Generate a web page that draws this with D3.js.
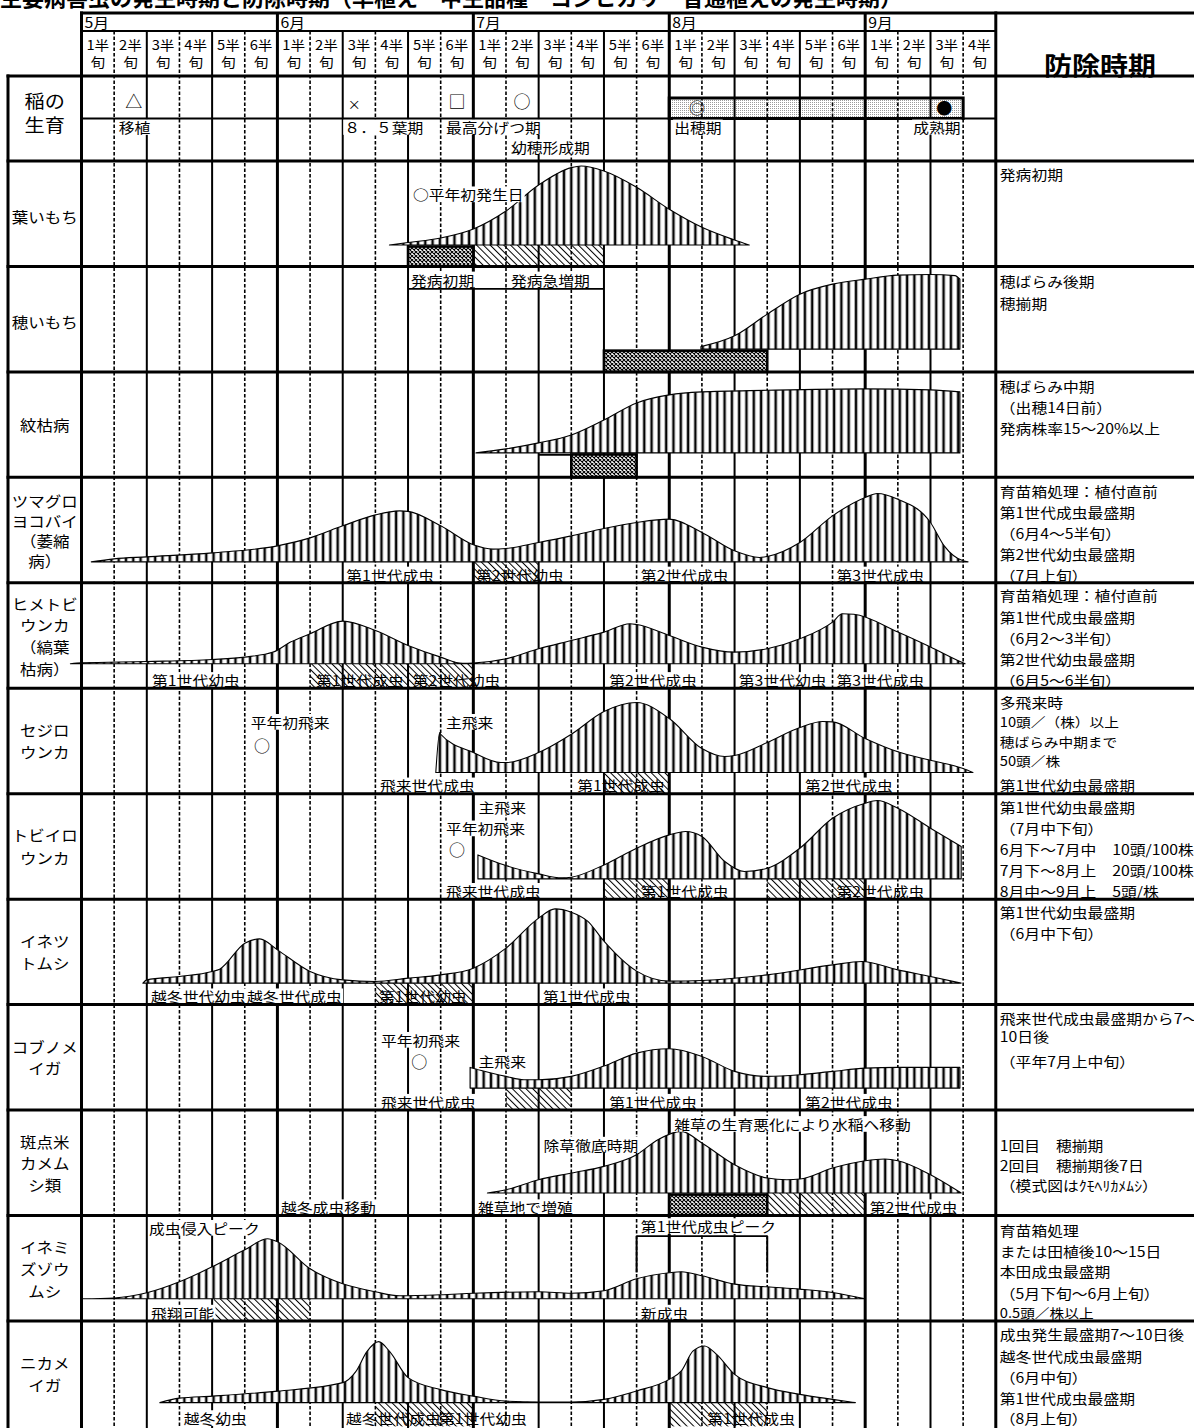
<!DOCTYPE html>
<html><head><meta charset="utf-8">
<script src="https://cdn.jsdelivr.net/npm/d3@7"></script>
<style>
body{margin:0;background:#fff}
svg{display:block}
text{font-family:"Noto Sans CJK JP","Noto Sans CJK SC",sans-serif;fill:#000}
</style>
</head><body>
<svg id="c" width="1194" height="1428"></svg>
<script>
// ---------------- DATA ----------------
const titleText = "主要病害虫の発生時期と防除時期（早植え　中生品種　コシヒカリ　普通植えの発生時期）";
const months = ["5月","6月","7月","8月","9月"];
const halvesPerMonth = [6,6,6,6,4];
const halfTop = ["1半","2半","3半","4半","5半","6半"];
const halfBottom = "旬";
const controlHeader = "防除時期";
const riceLabel = ["稲の","生育"];
const riceMarks = [["△",1.6],["×",8.35],["□",11.5],["○",13.49],["◎",18.85],["●",26.42]];
const riceStages = [["移植",1.14,0],["８．５葉期",8.05,0],["最高分げつ期",11.16,0],["幼穂形成期",13.15,1],["出穂期",18.15,0],["成熟期",25.47,0]];
const ripeningBand = [18,27];

const pestNames = [["葉いもち"],["穂いもち"],["紋枯病"],["ツマグロ","ヨコバイ","（萎縮","病）"],["ヒメトビ","ウンカ","（縞葉","枯病）"],["セジロ","ウンカ"],["トビイロ","ウンカ"],["イネツ","トムシ"],["コブノメ","イガ"],["斑点米","カメム","シ類"],["イネミ","ズゾウ","ムシ"],["ニカメ","イガ"]];

const controlText = [
 ["発病初期"],
 ["穂ばらみ後期","穂揃期"],
 ["穂ばらみ中期","（出穂14日前）","発病株率15～20%以上"],
 ["育苗箱処理：植付直前","第1世代成虫最盛期","（6月4～5半旬）","第2世代幼虫最盛期","（7月上旬）"],
 ["育苗箱処理：植付直前","第1世代成虫最盛期","（6月2～3半旬）","第2世代幼虫最盛期","（6月5～6半旬）"],
 ["多飛来時","10頭／（株）以上","穂ばらみ中期まで","50頭／株","第1世代幼虫最盛期"],
 ["第1世代幼虫最盛期","（7月中下旬）","6月下～7月中　10頭/100株","7月下～8月上　20頭/100株","8月中～9月上　5頭/株"],
 ["第1世代幼虫最盛期","（6月中下旬）"],
 ["飛来世代成虫最盛期から7～","10日後","（平年7月上中旬）"],
 ["1回目　穂揃期","2回目　穂揃期後7日","（模式図はｸﾓﾍﾘｶﾒﾑｼ）"],
 ["育苗箱処理","または田植後10～15日","本田成虫最盛期","（5月下旬～6月上旬）","0.5頭／株以上"],
 ["成虫発生最盛期7～10日後","越冬世代成虫最盛期","（6月中旬）","第1世代成虫最盛期","（8月上旬）"]
];

// curves: [半旬 index from 1 May, relative abundance]
const curveHaimochi = [[9.43,0],[10,2.5],[11,7],[12,16],[13,34],[14,60],[15,77.4],[15.3,79],[16,74],[17,57.7],[18,35.7],[19,17.7],[20,5],[20.45,0]];
const curveHoimochi = [[18.97,2.5],[20,13.3],[21,35],[22,55],[23,65],[24,70],[25,74],[26,74.7],[26.75,73.5],[26.9,70]];
const curveMongare = [[12.08,0],[13,4],[14,10],[15,18],[16,33],[17,50],[18,58],[19,61],[21,62.6],[24,64],[26,63],[26.9,61]];
const curveTsumaguro = [[0.3,0],[1,3],[2,5],[4,9],[6,16],[7,24],[8,36],[9,47],[9.74,51],[10,50.5],[11,36],[12,17],[12.6,12.7],[13,13.4],[14,19.4],[15,26],[16,33.4],[17,39.4],[18,42.7],[19,29.4],[20,11],[20.76,4.4],[21,5.4],[22,19.4],[23,46],[24,64.4],[24.37,68.4],[25,62.7],[26,39.4],[26.42,16],[27,1],[27.15,0]];
const curveHimetobi = [[-0.34,0],[0,1],[2,2.3],[4,4.3],[5,6.7],[5.87,11.7],[6.4,21.7],[7,30],[8,42.7],[9,33.3],[10,18.3],[11,6.7],[11.67,0.5],[12,0.8],[13,5],[14,15],[15,23.3],[16,31.7],[16.8,40],[17,39.3],[18,28.3],[19,16.7],[20,11.7],[21,15],[22,25],[23,41.7],[23.3,50],[23.65,49.5],[25,31.7],[26,16.7],[26.94,1.7],[27.06,0]];
const curveSejiro = [[10.85,0],[10.97,40],[11,38.3],[12,20],[12.84,10],[13,10],[14,20],[15,38.3],[16,61],[17,70],[18,54],[19,24],[19.7,16],[20,17],[21,30],[22,45],[22.7,51],[23,50.7],[24,34],[25,20.7],[26,12.3],[27,4],[27.3,0]];
const curveTobiiro = [[12.14,24],[13,13.3],[14,5],[14.7,1],[15,1.7],[16,14],[17,30.7],[18,44],[18.5,47.4],[19,42.4],[19.7,17.4],[20.3,7.4],[21,10.7],[22,30.7],[23,60.7],[24,75.7],[24.37,78.4],[25,70.7],[26,50.7],[26.94,32.4]];
const curveInetsuto = [[1.88,0],[2,3.3],[3,6.7],[4,11.7],[4.23,14],[5,40],[5.46,44.3],[6,33.3],[7,11.7],[8,3.3],[9,1.7],[10,5],[11,8.3],[12,15],[13,35],[14,65],[14.5,74.3],[15,71],[15.5,62],[16,42],[17,12],[18,2],[19,2.7],[21,8.3],[23,18.3],[23.9,21.7],[25,13.3],[26,6.7],[26.94,0]];
const curveKobuno = [[11.9,20.7],[13,11.7],[13.55,8.3],[14,8.3],[15,11.7],[16,22],[17,35],[18,39.3],[19,31.7],[20,16.7],[21,11.7],[22,13.3],[23,16.7],[24,20],[25,20.7],[26.9,20.7]];
const curveKamemushi = [[12.43,0],[13,3.3],[14,13.3],[15,20],[16,26.7],[17,38.3],[17.65,53.3],[18.37,61.7],[19,50],[20,28.3],[21,15],[21.6,13.3],[22,14],[23,25],[24,32.3],[24.6,34],[25,32.3],[26,18.3],[26.94,0]];
const curveInemizu = [[0,0],[1,0.8],[2,6],[3,17],[4,32],[5,49],[5.7,60],[6,57],[7,30],[8,15],[9,7],[9.74,3],[11,4],[12,5.5],[14,7],[15,5.5],[16,8],[17,20],[18,26],[18.37,27],[19,23],[20,14.7],[21,12],[22,9.7],[23,6.3],[24,0]];
const curveNikamei = [[2.4,0],[3,4.5],[4,6.5],[6,11.5],[8,20],[8.4,31],[8.74,51],[9.1,61],[9.44,51],[10,25],[11,13],[12,6.5],[13,1.5],[14,0.6],[15,0.6],[16,3.3],[17,11.7],[18,23.3],[18.37,31.7],[18.73,51.7],[19.08,56.7],[19.45,48.3],[20,28.3],[21,15],[22,8.3],[23,3.3],[23.7,0]];
const curves = [curveHaimochi,curveHoimochi,curveMongare,curveTsumaguro,curveHimetobi,curveSejiro,curveTobiiro,curveInetsuto,curveKobuno,curveKamemushi,curveInemizu,curveNikamei];

// periods [row, from 半旬, to 半旬]
const hatchPeriods = [[0,12,16],[3,12,14],[4,7,12],[5,16,18],[6,16,18],[6,21,24],[7,9,12],[8,13,15],[9,21,24],[10,4.05,7],[11,9,12],[11,18,21]];
const controlPeriods = [[0,10,12],[1,16,21],[2,15,17],[9,18,21]];

// stage labels under curves [row, start 半旬, text, over hatch]
const stageLabels = [
 [3,8.11,"第1世代成虫",0],[3,12.08,"第2世代幼虫",1],[3,17.13,"第2世代成虫",0],[3,23.12,"第3世代成虫",0],
 [4,2.16,"第1世代幼虫",0],[4,7.18,"第1世代成虫",1],[4,10.14,"第2世代幼虫",1],[4,16.16,"第2世代成虫",0],[4,20.13,"第3世代幼虫",0],[4,23.12,"第3世代成虫",0],
 [5,9.14,"飛来世代成虫",0],[5,15.18,"第1世代成虫",1],[5,22.16,"第2世代成虫",0],
 [6,11.16,"飛来世代成虫",0],[6,17.13,"第1世代成虫",1],[6,23.12,"第2世代成虫",1],
 [7,2.13,"越冬世代幼虫",0],[7,5.07,"越冬世代成虫",0],[7,9.11,"第1世代幼虫",1],[7,14.13,"第1世代成虫",0],
 [8,9.17,"飛来世代成虫",0],[8,16.16,"第1世代成虫",0],[8,22.16,"第2世代成虫",0],
 [9,6.11,"越冬成虫移動",0],[9,12.14,"雑草地で増殖",0],[9,24.14,"第2世代成虫",0],
 [10,2.13,"飛翔可能",0],[10,17.13,"新成虫",0],
 [11,3.13,"越冬幼虫",0],[11,8.1,"越冬世代成虫",1],[11,10.95,"第1世代幼虫",1],[11,19.16,"第1世代成虫",1]
];
// notes [row, start 半旬, text]
const notes = [
 [0,10.15,"○平年初発生日"],[1,10.09,"発病初期"],[1,13.15,"発病急増期"],
 [5,5.18,"平年初飛来"],[5,11.16,"主飛来"],[6,12.16,"主飛来"],[6,11.16,"平年初飛来"],
 [8,9.17,"平年初飛来"],[8,12.16,"主飛来"],[9,14.15,"除草徹底時期"],[9,18.15,"雑草の生育悪化により水稲へ移動"],
 [10,2.07,"成虫侵入ピーク"],[10,17.13,"第1世代成虫ピーク"]
];
const firstArrival = [[5,5.53],[6,11.5],[8,10.34]];
const noteLines = [[1,10,16,"u"],[10,17,21,"b"],[2,14,15,"m"]];

// ---------------- LAYOUT ----------------
const W=1194,H=1428;
const GX0=81.5, GX1=995.8, LX=8;
const HEAD_TOP=13, MONTH_BOT=31, HEAD_BOT=76, RICE_MID=118.5, ROW0=161, ROW_H=105.45;
const baseOff=[84,82.7,81,84.5,81,84.3,85.2,84,83.5,83,83.3,81.7];
const noteDy=[33.3,13,13,33.6,33.6,13,34.7,35.2,56.8,34.6,13.9,12.3,10.6];
const arrivalDy=[56.3,55.7,56.8];
const ctrlDy=[[13.3],[14.4,36],[13.8,35.4,56.4],[13.2,34.8,55.8,76.5,97.5],[12.6,34.2,55.2,75.9,97.6],[13.6,33.6,53.6,72,97],[13,34.7,55.7,76.4,97],[13.1,34.1],[13.5,31.5,56.8],[34.6,54.6,74.6],[14,35,55.6,77.3,97.3],[13.4,35,56,76.7,96.7]];
const smallLines={5:[1,2,3],10:[4]};
const nameLH=[0,0,0,20,21.7,21.6,23.3,21.7,21.7,21.6,21.7,21.6];
const nameDy=[3,3,0,0.5,0.5,0,0,0,0,0.5,0.5,0];
const SX=1.13, FS=14;

const svg=d3.select("#c");
svg.append("rect").attr("width",W).attr("height",H).attr("fill","#fff");
const defs=svg.append("defs");
const ps=defs.append("pattern").attr("id","stripes").attr("patternUnits","userSpaceOnUse").attr("width",7.3).attr("height",10);
ps.append("rect").attr("width",7.3).attr("height",10).attr("fill","#fff");
ps.append("rect").attr("x",0).attr("width",3.8).attr("height",10).attr("fill","#a8a8a8");
ps.append("rect").attr("x",1).attr("width",1.8).attr("height",10).attr("fill","#000");
const ph=defs.append("pattern").attr("id","hatch").attr("patternUnits","userSpaceOnUse").attr("width",4.8).attr("height",4.8).attr("patternTransform","rotate(-45)");
ph.append("rect").attr("width",1).attr("height",4.8).attr("fill","#000");
const pc=defs.append("pattern").attr("id","cross").attr("patternUnits","userSpaceOnUse").attr("width",4).attr("height",4);
pc.append("rect").attr("width",4).attr("height",4).attr("fill","#fff");
pc.append("path").attr("d","M0,0L4,4M4,0L0,4").attr("stroke","#000").attr("stroke-width",1.1);
const pd=defs.append("pattern").attr("id","dots").attr("patternUnits","userSpaceOnUse").attr("width",2).attr("height",2);
pd.append("rect").attr("width",2).attr("height",2).attr("fill","#fff");
pd.append("rect").attr("width",1).attr("height",1).attr("fill","#9a9a9a");

const x=d3.scaleLinear().domain([0,28]).range([GX0,GX1]);
const rowTop=i=>ROW0+i*ROW_H;
const rowBase=i=>rowTop(i)+baseOff[i];

function label(parent,px,py,str,o={}){
  const size=o.size||FS, sx=o.sx||SX;
  const g=parent.append("g").attr("transform",`translate(${px},${py}) scale(${sx},1)`);
  const t=g.append("text").attr("font-size",size).attr("text-anchor",o.anchor||"start")
    .attr("dominant-baseline","central").attr("font-weight",o.weight||"normal").text(str);
  if(o.bg){const b=t.node().getBBox();
    g.insert("rect","text").attr("x",b.x-1).attr("y",b.y+2).attr("width",b.width+2).attr("height",b.height-4).attr("fill","#fff");}
  return g;
}

label(svg,0,-4.5,titleText,{size:22,weight:"bold",sx:1});

svg.append("rect").attr("x",x(ripeningBand[0])).attr("y",98).attr("width",x(ripeningBand[1])-x(ripeningBand[0])).attr("height",RICE_MID-98).attr("fill","url(#dots)");

const gridG=svg.append("g");
let k=0; const monthStarts=[];
halvesPerMonth.forEach((n,m)=>{monthStarts.push(k);for(let p=0;p<n;p++){
  const b=k+p;
  if(p===0){ if(b>0) gridG.append("line").attr("x1",x(b)).attr("x2",x(b)).attr("y1",HEAD_TOP).attr("y2",H).attr("stroke","#000").attr("stroke-width",3); }
  else if(p%2===1) gridG.append("line").attr("x1",x(b)).attr("x2",x(b)).attr("y1",MONTH_BOT).attr("y2",H).attr("stroke","#000").attr("stroke-width",1.6).attr("stroke-dasharray","3.5,2");
  else gridG.append("line").attr("x1",x(b)).attr("x2",x(b)).attr("y1",MONTH_BOT).attr("y2",H).attr("stroke","#000").attr("stroke-width",2);
 } k+=n;});

svg.append("rect").attr("x",x(ripeningBand[0])).attr("y",98).attr("width",x(ripeningBand[1])-x(ripeningBand[0])).attr("height",RICE_MID-98).attr("fill","none").attr("stroke","#000").attr("stroke-width",3);

const curveG=svg.append("g");
curves.forEach((c,i)=>{
  const yv=d3.scaleLinear().domain([0,100]).range([rowBase(i),rowBase(i)-100]);
  const area=d3.area().x(d=>x(d[0])).y0(yv(0)).y1(d=>yv(d[1])).curve(d3.curveMonotoneX);
  curveG.append("path").attr("d",area(c)).attr("fill","url(#stripes)").attr("stroke","#000").attr("stroke-width",1.1).attr("stroke-linejoin","round");
});

hatchPeriods.forEach(([r,a,b])=>{
  svg.append("rect").attr("x",x(a)).attr("y",rowBase(r)).attr("width",x(b)-x(a)).attr("height",rowTop(r+1)-rowBase(r)).attr("fill","url(#hatch)");
});
controlPeriods.forEach(([r,a,b])=>{
  svg.append("rect").attr("x",x(a)).attr("y",rowBase(r)+1.5).attr("width",x(b)-x(a)).attr("height",rowTop(r+1)-rowBase(r)-1.5).attr("fill","url(#cross)").attr("stroke","#000").attr("stroke-width",2.6);
});

stageLabels.forEach(([r,u,t,h])=>label(svg,x(u),rowTop(r)+ROW_H-8.3,t,{bg:!h}));
notes.forEach(([r,u,t],i)=>label(svg,x(u),rowTop(r)+noteDy[i],t,{bg:true}));
firstArrival.forEach(([r,u],i)=>label(svg,x(u),rowTop(r)+arrivalDy[i],"○",{anchor:"middle",size:16,sx:1}));

noteLines.forEach(([r,a,b,t])=>{
  const l=(x1,y1,x2,y2,w)=>svg.append("line").attr("x1",x1).attr("y1",y1).attr("x2",x2).attr("y2",y2).attr("stroke","#000").attr("stroke-width",w||1.8);
  if(t==="u") l(x(a),rowTop(r)+22.5,x(b),rowTop(r)+22.5);
  if(t==="b"){const y=rowTop(r)+20.6; l(x(a),y,x(b),y); l(x(a),y,x(a),rowTop(r)+57,2); l(x(b),y,x(b),rowTop(r)+57,2);}
  if(t==="m") l(x(a),rowBase(r)+2,x(b),rowBase(r)+2,1.6);
});

riceMarks.forEach(([s,u])=>{
  const big=(s==="●"||s==="◎");
  label(svg,x(u),s==="×"?103:big?107:100,s,{anchor:"middle",size:s==="×"?13:big?16:17,sx:1});
});
riceStages.forEach(([s,u,lv])=>label(svg,x(u),lv?147:127,s,{bg:true}));

const hl=(x1,x2,y,w)=>svg.append("line").attr("x1",x1).attr("x2",x2).attr("y1",y).attr("y2",y).attr("stroke","#000").attr("stroke-width",w);
hl(GX0-1.5,W,HEAD_TOP,3); hl(GX0,GX1,MONTH_BOT,2); hl(LX-1.5,W,HEAD_BOT,3); hl(GX0,GX1,RICE_MID,2);
for(let i=0;i<12;i++) hl(LX-1.5,W,rowTop(i),3);
const vl=(xx,y1,y2,w)=>svg.append("line").attr("x1",xx).attr("x2",xx).attr("y1",y1).attr("y2",y2).attr("stroke","#000").attr("stroke-width",w);
vl(LX,HEAD_BOT-1.5,H,3); vl(GX0,HEAD_TOP-1.5,H,3); vl(GX1,HEAD_TOP-1.5,H,3);

months.forEach((m,i)=>label(svg,x(monthStarts[i])+3,22,m,{size:14}));
let c=0;
halvesPerMonth.forEach(n=>{for(let p=0;p<n;p++){const cx=x(c+0.5);
  label(svg,cx,44.5,halfTop[p],{anchor:"middle",size:13});
  label(svg,cx,61,halfBottom,{anchor:"middle",size:13}); c++;}});
label(svg,1100,64,controlHeader,{anchor:"middle",size:25,weight:"bold",sx:1.12});

label(svg,(LX+GX0)/2,100,riceLabel[0],{anchor:"middle",size:18,sx:1.12});
label(svg,(LX+GX0)/2,124,riceLabel[1],{anchor:"middle",size:18,sx:1.12});
pestNames.forEach((ls,i)=>{
  const lh=nameLH[i]||0, mid=rowTop(i)+ROW_H/2+nameDy[i];
  ls.forEach((s,j)=>label(svg,(LX+GX0)/2,mid+(j-(ls.length-1)/2)*lh,s,{anchor:"middle",size:15,sx:1.1}));
});

controlText.forEach((ls,i)=>ls.forEach((s,j)=>{
  const small=(smallLines[i]||[]).includes(j);
  label(svg,GX1+4,rowTop(i)+ctrlDy[i][j],s,{size:small?13:14});
}));
</script>
</body></html>
